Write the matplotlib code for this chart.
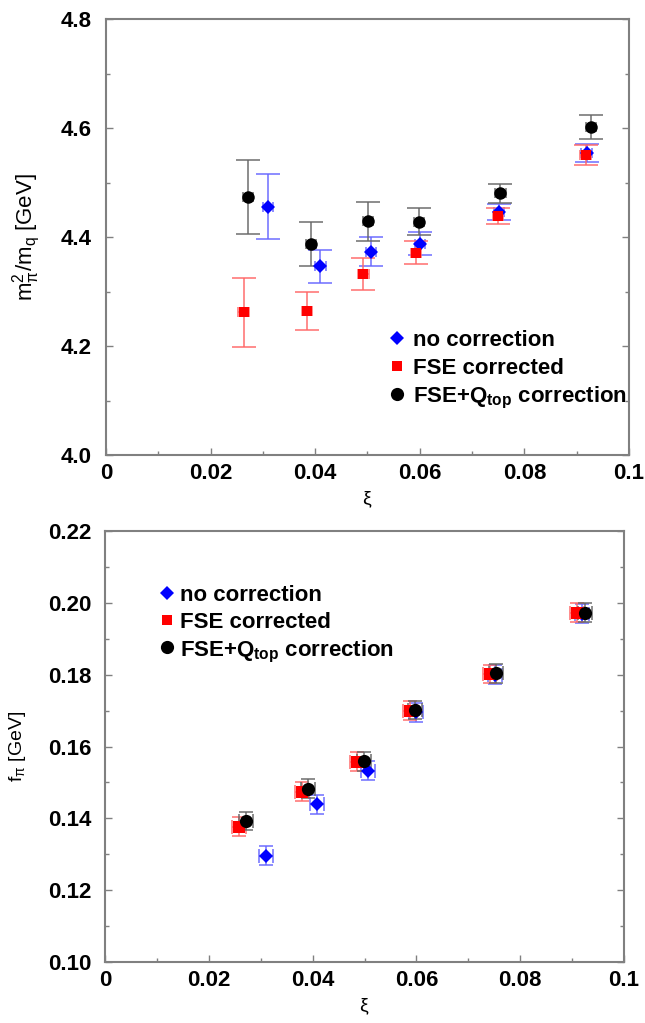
import matplotlib
matplotlib.use("Agg")
import matplotlib.pyplot as plt
from matplotlib.ticker import MultipleLocator, FixedLocator, FixedFormatter

plt.rcParams['font.family'] = ['Liberation Sans', 'DejaVu Sans']
plt.rcParams['mathtext.fontset'] = 'custom'
plt.rcParams['mathtext.rm'] = 'Liberation Sans'
plt.rcParams['mathtext.it'] = 'Liberation Sans'
plt.rcParams['mathtext.bf'] = 'Liberation Sans:bold'

# ---------------- data: m_pi^2 / m_q ----------------
xi_none_m = [0.0310, 0.0410, 0.0507, 0.0600, 0.0751, 0.0919]
m_none = [4.456, 4.346, 4.373, 4.388, 4.446, 4.554]
m_none_err = [0.059, 0.031, 0.027, 0.021, 0.015, 0.017]

xi_fse_m = [0.0263, 0.0384, 0.0492, 0.0593, 0.0750, 0.0917]
m_fse = [4.262, 4.265, 4.332, 4.371, 4.439, 4.550]
m_fse_err = [0.063, 0.035, 0.029, 0.021, 0.015, 0.018]

xi_top_m = [0.0272, 0.0392, 0.0501, 0.0599, 0.0754, 0.0927]
m_top = [4.473, 4.387, 4.429, 4.428, 4.480, 4.602]
m_top_err = [0.068, 0.040, 0.036, 0.025, 0.018, 0.022]

xi_err_m = 0.0010

# ---------------- data: f_pi ----------------
xi_none_f = [0.0310, 0.0409, 0.0507, 0.0600, 0.0751, 0.0919]
f_none = [0.1296, 0.1439, 0.1533, 0.1695, 0.1800, 0.1970]

xi_fse_f = [0.0259, 0.0379, 0.0485, 0.0588, 0.0742, 0.0909]
f_fse = [0.1377, 0.1474, 0.1558, 0.1700, 0.1802, 0.1973]

xi_top_f = [0.0272, 0.0391, 0.0499, 0.0597, 0.0753, 0.0925]
f_top = [0.1393, 0.1483, 0.1559, 0.1702, 0.1804, 0.1973]

f_err = [0.0026, 0.0026, 0.0026, 0.0026, 0.0026, 0.0026]
xi_err_f = 0.00135

labels = ["no correction", "FSE corrected",
          r"FSE+Q$_{\mathbf{top}}$ correction"]

x_ticks = [0, 0.02, 0.04, 0.06, 0.08, 0.1]
x_tick_labels = ["0", "0.02", "0.04", "0.06", "0.08", "0.1"]
m_ticks = [4.0, 4.2, 4.4, 4.6, 4.8]
m_tick_labels = ["4.0", "4.2", "4.4", "4.6", "4.8"]
f_ticks = [0.10, 0.12, 0.14, 0.16, 0.18, 0.20, 0.22]
f_tick_labels = ["0.10", "0.12", "0.14", "0.16", "0.18", "0.20", "0.22"]

styles = [
    dict(marker='D', color='#0000ff', ecolor=(0.4, 0.4, 1.0, 0.75)),
    dict(marker='s', color='#ff0000', ecolor=(1.0, 0.4, 0.4, 0.75)),
    dict(marker='o', color='#000000', ecolor=(0.4, 0.4, 0.4, 0.75)),
]

fig = plt.figure(figsize=(6.45, 10.23), dpi=100)
ax1 = fig.add_axes([0.1643, 0.5552, 0.8109, 0.4262])
ax2 = fig.add_axes([0.1628, 0.0596, 0.8047, 0.4213])


def draw_series(ax, x, y, yerr, xerr, st, ms, ycap, xcap):
    ax.errorbar(x, y, yerr=yerr, fmt='none', ecolor=st['ecolor'],
                elinewidth=1.4, capsize=ycap, capthick=1.4, zorder=2)
    ax.errorbar(x, y, xerr=xerr, fmt='none', ecolor=st['ecolor'],
                elinewidth=1.4, capsize=xcap, capthick=1.4, zorder=2)
    ax.plot(x, y, linestyle='none', marker=st['marker'], color=st['color'],
            markersize=ms, markeredgewidth=0, zorder=3)


def draw_key(ax, mx, tx, ys, ms_list):
    # marker + label rows placed in axes fraction coordinates
    for st, lab, yy, ms in zip(styles, labels, ys, ms_list):
        ax.plot([mx], [yy], transform=ax.transAxes, linestyle='none',
                marker=st['marker'], color=st['color'], markersize=ms,
                markeredgewidth=0, clip_on=False, zorder=4)
        ax.text(tx, yy, lab, transform=ax.transAxes, ha='left', va='center_baseline',
                fontsize=16, fontweight='bold', zorder=4)


# upper panel
series_m = [(xi_none_m, m_none, m_none_err),
            (xi_fse_m, m_fse, m_fse_err),
            (xi_top_m, m_top, m_top_err)]
for (x, y, e), st, ms in zip(series_m, styles, [7.0, 7.5, 9.0]):
    draw_series(ax1, x, y, e, xi_err_m, st, ms, 8.3, 3.6)

# lower panel
series_f = [(xi_none_f, f_none), (xi_fse_f, f_fse), (xi_top_f, f_top)]
for (x, y), st, ms in zip(series_f, styles, [7.5, 8.0, 9.5]):
    draw_series(ax2, x, y, f_err, xi_err_f, st, ms, 5.0, 5.0)

for ax, yt, ytl, ylim, yminor in [(ax1, m_ticks, m_tick_labels, (4.0, 4.8), 0.1),
                                  (ax2, f_ticks, f_tick_labels, (0.10, 0.22), 0.01)]:
    ax.set_xlim(0, 0.1)
    ax.set_ylim(*ylim)
    ax.xaxis.set_major_locator(FixedLocator(x_ticks))
    ax.xaxis.set_major_formatter(FixedFormatter(x_tick_labels))
    ax.xaxis.set_minor_locator(MultipleLocator(0.01))
    ax.yaxis.set_major_locator(FixedLocator(yt))
    ax.yaxis.set_major_formatter(FixedFormatter(ytl))
    ax.yaxis.set_minor_locator(MultipleLocator(yminor))
    ax.tick_params(which='both', direction='in', color='#808080',
                   right=True, top=False)
    ax.tick_params(which='major', length=5, width=1.0)
    ax.tick_params(which='minor', length=3, width=1.0)
    ax.tick_params(axis='x', pad=6)
    ax.tick_params(axis='y', pad=10)
    for lab in ax.get_xticklabels() + ax.get_yticklabels():
        lab.set_fontsize(16)
        lab.set_fontweight('bold')
    for sp in ax.spines.values():
        sp.set_color('#808080')
        sp.set_linewidth(1.5)
    ax.set_xlabel(r"$\xi$", fontsize=14)
    ax.xaxis.label.set_va('center')

ax1.xaxis.set_label_coords(0.5, -0.103)
ax2.xaxis.set_label_coords(0.5, -0.104)

ax1.set_ylabel(r"m$_{\pi}^{2}$/m$_{\mathrm{q}}$ [GeV]", fontsize=16)
ax2.set_ylabel(r"f$_{\pi}$ [GeV]", fontsize=14)
ax1.yaxis.set_label_coords(-0.122, 0.5)
ax2.yaxis.set_label_coords(-0.148, 0.5)

draw_key(ax1, 0.5564, 0.587, [0.269, 0.2048, 0.140], [7.0, 7.5, 9.5])
draw_key(ax2, 0.1195, 0.1445, [0.857, 0.7935, 0.730], [7.0, 7.5, 9.5])

fig.savefig("out.png", dpi=100)
